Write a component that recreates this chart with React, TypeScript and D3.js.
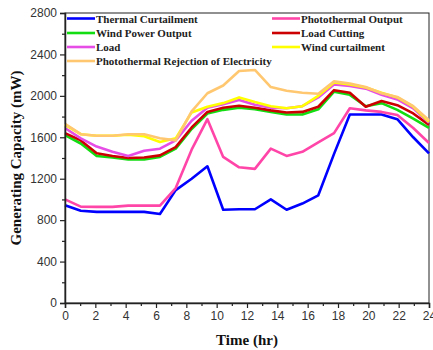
import React, { useRef, useEffect } from 'react';
import * as d3 from 'd3';

// hours of the 24 samples (evenly spread over 0..24)
const hours = [0, 1.04, 2.09, 3.13, 4.17, 5.22, 6.26, 7.3, 8.35, 9.39, 10.43, 11.48,
  12.52, 13.57, 14.61, 15.65, 16.7, 17.74, 18.78, 19.83, 20.87, 21.91, 22.96, 24];

const thermalCurtailment = [944, 890, 880, 880, 880, 880, 860, 1090, 1200, 1320, 900, 905,
  905, 1000, 900, 960, 1040, 1440, 1820, 1820, 1820, 1775, 1600, 1445];
const photothermalOutput = [1000, 930, 928, 928, 940, 940, 940, 1110, 1480, 1775, 1410, 1310,
  1295, 1490, 1420, 1460, 1550, 1640, 1880, 1860, 1845, 1815, 1690, 1545];
const windPowerOutput = [1620, 1540, 1420, 1405, 1385, 1385, 1410, 1490, 1680, 1830, 1865, 1885,
  1870, 1845, 1820, 1820, 1870, 2040, 2010, 1900, 1930, 1865, 1780, 1690];
const loadCutting = [1640, 1570, 1445, 1420, 1400, 1405, 1425, 1505, 1695, 1845, 1885, 1905,
  1885, 1860, 1840, 1845, 1895, 2055, 2030, 1895, 1950, 1910, 1830, 1720];
const load = [1690, 1590, 1510, 1460, 1420, 1470, 1490, 1570, 1760, 1885, 1920, 1960,
  1915, 1885, 1880, 1900, 1985, 2110, 2095, 2070, 2010, 1965, 1880, 1740];
const windCurtailment = [1720, 1630, 1615, 1615, 1625, 1610, 1555, 1590, 1840, 1895, 1930, 1985,
  1940, 1900, 1880, 1900, 2000, 2130, 2110, 2080, 2030, 1985, 1895, 1750];
const photothermalRejection = [1730, 1630, 1615, 1615, 1630, 1630, 1590, 1570, 1850, 2025, 2100, 2240,
  2250, 2085, 2050, 2030, 2020, 2140, 2120, 2085, 2025, 1990, 1900, 1765];

const seriesNames = ['Thermal Curtailment', 'Photothermal Output', 'Wind Power Output', 'Load Cutting',
  'Load', 'Wind curtailment', 'Photothermal Rejection of Electricity'];
const seriesValues = [thermalCurtailment, photothermalOutput, windPowerOutput, loadCutting,
  load, windCurtailment, photothermalRejection];
const seriesColors = ['#0000ff', '#ff45a8', '#11dd11', '#cc0000', '#e64de6', '#ffff00', '#ffc870'];

const yTicks = [0, 400, 800, 1200, 1600, 2000, 2400, 2800];
const xTicks = [0, 2, 4, 6, 8, 10, 12, 14, 16, 18, 20, 22, 24];

const width = 433;
const height = 350;
const margin = { top: 13, right: 4, bottom: 47, left: 65 };

const App: React.FC = () => {
  const svgRef = useRef<SVGSVGElement>(null);

  useEffect(() => {
    const svg = d3.select(svgRef.current);
    svg.selectAll('*').remove();

    const innerWidth = width - margin.left - margin.right;
    const innerHeight = height - margin.top - margin.bottom;

    const x = d3.scaleLinear().domain([0, 24]).range([0, innerWidth]);
    const y = d3.scaleLinear().domain([0, 2800]).range([innerHeight, 0]);

    const g = svg.append('g').attr('transform', `translate(${margin.left},${margin.top})`);

    // frame
    g.append('rect')
      .attr('width', innerWidth)
      .attr('height', innerHeight)
      .attr('fill', 'none')
      .attr('stroke', '#222')
      .attr('stroke-width', 1);

    // lines
    const line = d3.line<number>()
      .x((_, i) => x(hours[i]))
      .y(d => y(d));

    seriesValues.forEach((vals, k) => {
      g.append('path')
        .datum(vals)
        .attr('fill', 'none')
        .attr('stroke', seriesColors[k])
        .attr('stroke-width', 2.6)
        .attr('stroke-linejoin', 'round')
        .attr('d', line);
    });

    // y axis
    const yAxis = g.append('g')
      .call(d3.axisLeft(y).tickValues(yTicks).tickSize(5).tickPadding(3).tickFormat(d3.format('d')));
    yAxis.selectAll('text')
      .style('font-family', '"Liberation Sans", Arial, sans-serif')
      .style('font-size', '12px')
      .attr('fill', '#333');
    g.append('g')
      .call(d3.axisLeft(y).tickValues(d3.range(200, 2800, 400)).tickSize(3).tickFormat(() => ''))
      .select('.domain').remove();

    // x axis
    const xAxis = g.append('g')
      .attr('transform', `translate(0,${innerHeight})`)
      .call(d3.axisBottom(x).tickValues(xTicks).tickSize(5).tickPadding(3));
    xAxis.selectAll('text')
      .style('font-family', '"Liberation Sans", Arial, sans-serif')
      .style('font-size', '12px')
      .attr('fill', '#333');
    g.append('g')
      .attr('transform', `translate(0,${innerHeight})`)
      .call(d3.axisBottom(x).tickValues(d3.range(1, 24, 2)).tickSize(3).tickFormat(() => ''))
      .select('.domain').remove();

    g.selectAll('.domain').attr('stroke', '#222').attr('stroke-width', 1.5);
    g.selectAll('.tick line').attr('stroke', '#222').attr('stroke-width', 1.2);

    // axis titles
    svg.append('text')
      .attr('transform', `translate(21,${margin.top + innerHeight / 2}) rotate(-90)`)
      .attr('text-anchor', 'middle')
      .style('font-family', '"Liberation Serif", "Times New Roman", serif')
      .style('font-weight', 'bold')
      .style('font-size', '15px')
      .attr('fill', '#111')
      .text('Generating Capacity (mW)');

    svg.append('text')
      .attr('x', 247)
      .attr('y', 345)
      .attr('text-anchor', 'middle')
      .style('font-family', '"Liberation Serif", "Times New Roman", serif')
      .style('font-weight', 'bold')
      .style('font-size', '15px')
      .attr('fill', '#111')
      .text('Time (hr)');

    // legend
    const legendCols = [2, 207];
    const legendRows = [5.5, 20, 34, 48];
    seriesNames.forEach((name, k) => {
      const col = k % 2;
      const row = Math.floor(k / 2);
      const lg = g.append('g')
        .attr('transform', `translate(${legendCols[col]},${legendRows[row]})`);
      lg.append('line')
        .attr('x1', 0).attr('x2', 28)
        .attr('y1', 0).attr('y2', 0)
        .attr('stroke', seriesColors[k])
        .attr('stroke-width', 2.6);
      lg.append('text')
        .attr('x', 29)
        .attr('y', 4)
        .style('font-family', '"Liberation Serif", "Times New Roman", serif')
        .style('font-weight', 'bold')
        .style('font-size', '11px')
        .attr('fill', '#222')
        .text(name);
    });
  }, []);

  return (
    <svg
      ref={svgRef}
      width={width}
      height={height}
      style={{ position: 'absolute', left: 0, top: 0, background: '#fff' }}
    />
  );
};

export default App;
